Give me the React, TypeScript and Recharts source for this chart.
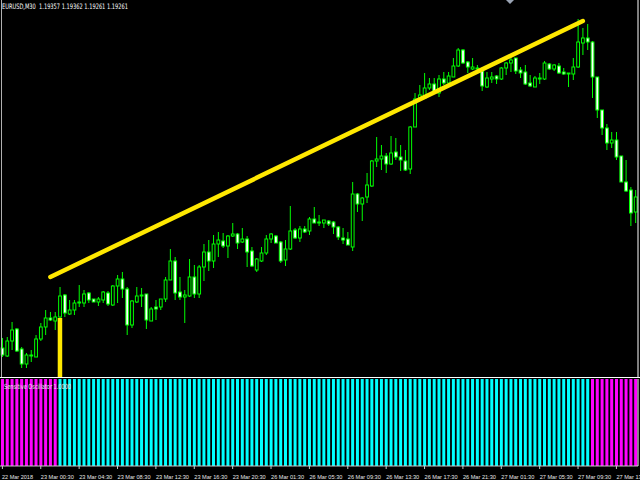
import React from 'react';
import { ComposedChart, BarChart, Bar, XAxis, YAxis, ReferenceLine, Cell } from 'recharts';

// ---- data (EURUSD, M30) ----
const openPrices = [
  1.23260, 1.23220, 1.23295, 1.23355, 1.23255, 1.23180, 1.23225, 1.23215, 1.23305, 1.23365,
  1.23410, 1.23395, 1.23415, 1.23525, 1.23430, 1.23450, 1.23485, 1.23485, 1.23535, 1.23505,
  1.23490, 1.23500, 1.23535, 1.23475, 1.23570, 1.23605, 1.23555, 1.23375, 1.23490, 1.23525,
  1.23530, 1.23395, 1.23465, 1.23465, 1.23505, 1.23600, 1.23695, 1.23540, 1.23515, 1.23520,
  1.23615, 1.23530, 1.23665, 1.23740, 1.23695, 1.23780, 1.23795, 1.23770, 1.23820, 1.23830,
  1.23790, 1.23805, 1.23745, 1.23650, 1.23695, 1.23735, 1.23805, 1.23820, 1.23790, 1.23700,
  1.23755, 1.23850, 1.23810, 1.23855, 1.23845, 1.23905, 1.23885, 1.23885, 1.23895, 1.23890,
  1.23865, 1.23810, 1.23805, 1.23765, 1.24030, 1.23980, 1.24015, 1.24070, 1.24195, 1.24205,
  1.24220, 1.24180, 1.24240, 1.24215, 1.24195, 1.24155, 1.24365, 1.24505, 1.24510, 1.24560,
  1.24580, 1.24535, 1.24605, 1.24585, 1.24615, 1.24670, 1.24750, 1.24690, 1.24655, 1.24660,
  1.24645, 1.24565, 1.24605, 1.24620, 1.24605, 1.24660, 1.24685, 1.24710, 1.24650, 1.24640,
  1.24585, 1.24565, 1.24605, 1.24605, 1.24680, 1.24655, 1.24670, 1.24640, 1.24635, 1.24630,
  1.24665, 1.24785, 1.24810, 1.24790, 1.24615, 1.24450, 1.24360, 1.24285, 1.24300, 1.24220,
  1.24090, 1.24050, 1.23940,
];
const highPrices = [
  1.23310, 1.23315, 1.23390, 1.23360, 1.23265, 1.23235, 1.23250, 1.23325, 1.23385, 1.23450,
  1.23440, 1.23440, 1.23565, 1.23530, 1.23500, 1.23500, 1.23575, 1.23550, 1.23540, 1.23505,
  1.23515, 1.23545, 1.23545, 1.23575, 1.23625, 1.23640, 1.23565, 1.23500, 1.23565, 1.23560,
  1.23530, 1.23465, 1.23500, 1.23505, 1.23615, 1.23755, 1.23715, 1.23615, 1.23550, 1.23705,
  1.23675, 1.23675, 1.23780, 1.23800, 1.23825, 1.23840, 1.23835, 1.23825, 1.23885, 1.23835,
  1.23860, 1.23820, 1.23765, 1.23710, 1.23765, 1.23825, 1.23835, 1.23825, 1.23795, 1.23800,
  1.23970, 1.23860, 1.23870, 1.23870, 1.23915, 1.23965, 1.23925, 1.23900, 1.23900, 1.23895,
  1.23870, 1.23860, 1.23840, 1.24090, 1.24035, 1.24015, 1.24135, 1.24200, 1.24315, 1.24275,
  1.24235, 1.24320, 1.24310, 1.24275, 1.24250, 1.24370, 1.24535, 1.24575, 1.24635, 1.24610,
  1.24610, 1.24625, 1.24640, 1.24640, 1.24710, 1.24760, 1.24755, 1.24695, 1.24710, 1.24675,
  1.24665, 1.24640, 1.24640, 1.24625, 1.24665, 1.24690, 1.24715, 1.24710, 1.24665, 1.24675,
  1.24625, 1.24620, 1.24635, 1.24695, 1.24685, 1.24680, 1.24685, 1.24660, 1.24635, 1.24710,
  1.24905, 1.24860, 1.24880, 1.24795, 1.24615, 1.24450, 1.24380, 1.24340, 1.24340, 1.24220,
  1.24200, 1.24065, 1.24050,
];
const lowPrices = [
  1.23215, 1.23215, 1.23250, 1.23240, 1.23160, 1.23160, 1.23190, 1.23215, 1.23295, 1.23325,
  1.23395, 1.23350, 1.23400, 1.23415, 1.23425, 1.23425, 1.23465, 1.23465, 1.23485, 1.23490,
  1.23470, 1.23485, 1.23470, 1.23470, 1.23485, 1.23510, 1.23325, 1.23360, 1.23485, 1.23465,
  1.23355, 1.23395, 1.23400, 1.23450, 1.23490, 1.23600, 1.23500, 1.23500, 1.23385, 1.23515,
  1.23510, 1.23510, 1.23595, 1.23645, 1.23660, 1.23715, 1.23760, 1.23710, 1.23815, 1.23755,
  1.23785, 1.23665, 1.23665, 1.23640, 1.23690, 1.23725, 1.23785, 1.23785, 1.23685, 1.23670,
  1.23750, 1.23805, 1.23790, 1.23835, 1.23825, 1.23885, 1.23870, 1.23860, 1.23870, 1.23830,
  1.23800, 1.23780, 1.23775, 1.23745, 1.23940, 1.23895, 1.23985, 1.24065, 1.24165, 1.24150,
  1.24135, 1.24175, 1.24200, 1.24145, 1.24145, 1.24130, 1.24365, 1.24500, 1.24510, 1.24550,
  1.24535, 1.24515, 1.24575, 1.24575, 1.24615, 1.24665, 1.24680, 1.24635, 1.24650, 1.24635,
  1.24545, 1.24560, 1.24585, 1.24580, 1.24600, 1.24625, 1.24640, 1.24630, 1.24610, 1.24575,
  1.24565, 1.24565, 1.24580, 1.24600, 1.24650, 1.24645, 1.24630, 1.24625, 1.24565, 1.24600,
  1.24660, 1.24725, 1.24750, 1.24510, 1.24410, 1.24325, 1.24250, 1.24260, 1.24200, 1.24090,
  1.24040, 1.23870, 1.23885,
];
const closePrices = [
  1.23225, 1.23295, 1.23350, 1.23245, 1.23180, 1.23225, 1.23220, 1.23305, 1.23365, 1.23410,
  1.23400, 1.23415, 1.23520, 1.23435, 1.23450, 1.23485, 1.23490, 1.23530, 1.23500, 1.23490,
  1.23505, 1.23540, 1.23480, 1.23570, 1.23605, 1.23555, 1.23375, 1.23495, 1.23520, 1.23520,
  1.23400, 1.23455, 1.23455, 1.23505, 1.23600, 1.23695, 1.23535, 1.23515, 1.23525, 1.23615,
  1.23530, 1.23665, 1.23740, 1.23695, 1.23780, 1.23800, 1.23770, 1.23820, 1.23830, 1.23785,
  1.23805, 1.23740, 1.23670, 1.23705, 1.23735, 1.23805, 1.23830, 1.23785, 1.23695, 1.23755,
  1.23845, 1.23810, 1.23855, 1.23840, 1.23905, 1.23885, 1.23890, 1.23900, 1.23880, 1.23865,
  1.23815, 1.23800, 1.23775, 1.24030, 1.23980, 1.24010, 1.24075, 1.24195, 1.24205, 1.24220,
  1.24180, 1.24235, 1.24215, 1.24200, 1.24150, 1.24365, 1.24505, 1.24525, 1.24560, 1.24580,
  1.24540, 1.24605, 1.24585, 1.24620, 1.24670, 1.24750, 1.24685, 1.24665, 1.24665, 1.24655,
  1.24570, 1.24610, 1.24615, 1.24605, 1.24660, 1.24685, 1.24700, 1.24645, 1.24635, 1.24580,
  1.24570, 1.24610, 1.24610, 1.24685, 1.24655, 1.24675, 1.24635, 1.24630, 1.24630, 1.24665,
  1.24790, 1.24810, 1.24790, 1.24615, 1.24450, 1.24360, 1.24285, 1.24300, 1.24215, 1.24090,
  1.24045, 1.23935, 1.24015,
];

// Sensitive Oscillator: -1 = magenta, 1 = cyan
const oscSignal = [
  -1, -1, -1, -1, -1, -1, -1, -1, -1, -1, -1, -1,
  1, 1, 1, 1, 1, 1, 1, 1, 1, 1, 1, 1, 1, 1, 1, 1, 1, 1, 1, 1,
  1, 1, 1, 1, 1, 1, 1, 1, 1, 1, 1, 1, 1, 1, 1, 1, 1, 1, 1, 1,
  1, 1, 1, 1, 1, 1, 1, 1, 1, 1, 1, 1, 1, 1, 1, 1, 1, 1, 1, 1,
  1, 1, 1, 1, 1, 1, 1, 1, 1, 1, 1, 1, 1, 1, 1, 1, 1, 1, 1, 1,
  1, 1, 1, 1, 1, 1, 1, 1, 1, 1, 1, 1, 1, 1, 1, 1, 1, 1, 1, 1,
  1, 1, 1, 1, 1, 1, 1, 1, 1, 1, 1,
  -1, -1, -1, -1, -1, -1, -1, -1, -1, -1,
];

const timeTickIndex = [0, 8, 16, 24, 32, 40, 48, 56, 64, 72, 80, 88, 96, 104, 112, 120, 128];
const timeLabels = [
  '22 Mar 2018', '23 Mar 00:30', '23 Mar 04:30', '23 Mar 08:30', '23 Mar 12:30', '23 Mar 16:30',
  '23 Mar 20:30', '26 Mar 01:30', '26 Mar 05:30', '26 Mar 09:30', '26 Mar 13:30', '26 Mar 17:30',
  '26 Mar 21:30', '27 Mar 01:30', '27 Mar 05:30', '27 Mar 09:30', '27 Mar 13:30',
];

const priceTicks = [
  1.24923, 1.24785, 1.24647, 1.24509, 1.24371, 1.24233, 1.24095,
  1.23957, 1.23819, 1.23681, 1.23543, 1.23405, 1.23267, 1.23129,
];

const trendLine = [
  { idx: 10, price: 1.23615 },
  { idx: 121, price: 1.24895 },
];
const verticalMark = [
  { idx: 12, price: 1.23410 },
  { idx: 12, price: 1.23115 },
];

const titleText = 'EURUSD,M30  1.19357 1.19362 1.19261 1.19261';
const oscTitle = 'Sensitive Oscillator 1.0000';

const candles = openPrices.map((o, i) => ({
  idx: i,
  open: o,
  high: highPrices[i],
  low: lowPrices[i],
  close: closePrices[i],
}));
const oscData = oscSignal.map((s, i) => ({ idx: i, v: 1, s }));

const GREEN = '#00ff00';
const YELLOW = '#ffe800';

const CandleShape = (props: any) => {
  const { x, y, width, height, payload } = props;
  if (!payload) return null;
  const { open, high, low, close } = payload;
  const top = Math.min(y, y + height);
  const h = Math.abs(height);
  const cx = x + width / 2;
  const range = high - low;
  const k = range > 0 ? h / range : 0;
  const yO = top + (high - open) * k;
  const yC = top + (high - close) * k;
  const bull = close >= open;
  const bTop = Math.min(yO, yC);
  const bh = Math.max(Math.abs(yC - yO), 0.8);
  const bw = 2.8;
  return (
    <g>
      <line x1={cx} x2={cx} y1={top} y2={top + h} stroke={GREEN} strokeWidth={1} />
      <rect x={cx - bw / 2} y={bTop} width={bw} height={bh} fill={bull ? '#000000' : '#ffffff'} stroke={GREEN} strokeWidth={1} />
    </g>
  );
};

const TimeTick = (props: any) => {
  const { x, y, payload } = props;
  const k = timeTickIndex.indexOf(payload.value);
  if (k < 0) return null;
  const label = timeLabels[k];
  return (
    <text
      x={k === 0 ? 2 : x}
      y={y + 8}
      fill="#e6e6e6"
      fontSize={5.6}
      fontFamily="Liberation Sans"
      textLength={k === 0 ? 31 : 33}
      lengthAdjust="spacingAndGlyphs"
    >
      {label}
    </text>
  );
};

export default function App() {
  return (
    <div style={{ position: 'fixed', left: 0, top: 0, width: 640, height: 480, background: '#000', overflow: 'hidden' }}>
      <div style={{ position: 'absolute', left: 0, top: 0 }}>
        <ComposedChart width={640} height={377} data={candles} margin={{ top: 0, right: 0, left: 0, bottom: 0 }} barCategoryGap="10%">
          <XAxis dataKey="idx" hide />
          <YAxis
            orientation="right"
            width={2}
            type="number"
            domain={[1.23115, 1.25]}
            allowDataOverflow
            ticks={priceTicks}
            tick={false}
            tickSize={2}
            axisLine={{ stroke: '#ffffff' }}
            tickLine={{ stroke: '#ffffff' }}
          />
          <Bar dataKey={(d: any) => [d.low, d.high]} shape={<CandleShape />} isAnimationActive={false} />
          <ReferenceLine
            segment={[{ x: trendLine[0].idx, y: trendLine[0].price }, { x: trendLine[1].idx, y: trendLine[1].price }]}
            stroke={YELLOW}
            strokeWidth={4.5}
            strokeLinecap="round"
          />
          <ReferenceLine
            segment={[{ x: verticalMark[0].idx, y: verticalMark[0].price }, { x: verticalMark[1].idx, y: verticalMark[1].price }]}
            stroke={YELLOW}
            strokeWidth={4.5}
          />
        </ComposedChart>
      </div>
      <div style={{ position: 'absolute', left: 0, top: 377 }}>
        <BarChart width={640} height={103} data={oscData} margin={{ top: 2, right: 0, left: 0, bottom: 0 }} barCategoryGap="20%">
          <XAxis
            dataKey="idx"
            height={14}
            ticks={timeTickIndex}
            interval={0}
            tickSize={3}
            axisLine={{ stroke: '#c8c8c8' }}
            tickLine={{ stroke: '#c8c8c8' }}
            tick={<TimeTick />}
          />
          <YAxis orientation="right" width={2} domain={[0, 1]} tick={false} tickLine={false} axisLine={{ stroke: '#ffffff' }} />
          <Bar dataKey="v" isAnimationActive={false}>
            {oscData.map((d) => (
              <Cell key={d.idx} fill={d.s < 0 ? '#ff00ff' : '#00ffff'} />
            ))}
          </Bar>
        </BarChart>
      </div>
      <svg width={640} height={480} style={{ position: 'absolute', left: 0, top: 0, pointerEvents: 'none' }}>
        <line x1={1.5} x2={1.5} y1={0} y2={377} stroke="#b0b0b0" strokeWidth={1} />
        <line x1={0} x2={640} y1={377.5} y2={377.5} stroke="#ffffff" strokeWidth={1} />
        <polygon points="506,0 514,0 510,4" fill="#9aa4b4" />
        <text x={2} y={9} fill="#ffffff" fontSize={7.5} fontFamily="DejaVu Sans" textLength={126} lengthAdjust="spacingAndGlyphs" style={{ whiteSpace: 'pre' }}>
          {titleText}
        </text>
        <text x={4} y={389} fill="#ececec" fontSize={7} fontFamily="DejaVu Sans" textLength={67} lengthAdjust="spacingAndGlyphs">
          {oscTitle}
        </text>
      </svg>
    </div>
  );
}
